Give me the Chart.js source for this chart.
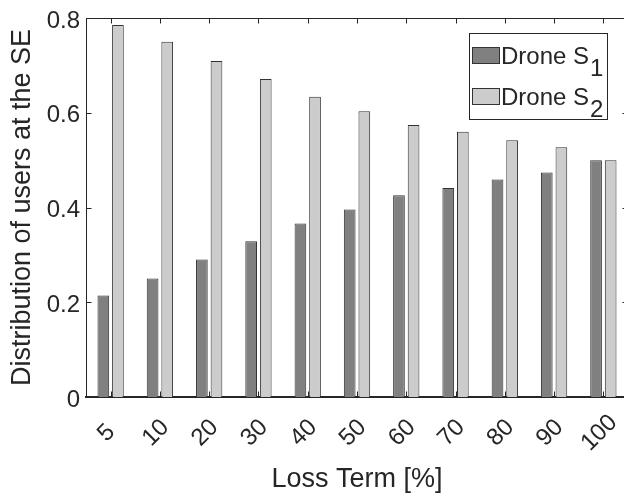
<!DOCTYPE html>
<html>
<head>
<meta charset="utf-8">
<script src="https://cdn.jsdelivr.net/npm/chart.js@4.4.1/dist/chart.umd.min.js"></script>
<style>
    html, body { margin: 0; padding: 0; background: #fff; overflow: hidden; }
    #wrap { position: relative; width: 650px; height: 501px; }
</style>
</head>
<body>
<div id="wrap"><canvas id="lossChart"></canvas></div>
<script>
// chart data
const lossTerms = ['5', '10', '20', '30', '40', '50', '60', '70', '80', '90', '100'];
const droneS1 = [0.214, 0.250, 0.290, 0.329, 0.366, 0.396, 0.426, 0.441, 0.459, 0.474, 0.500];
const droneS2 = [0.785, 0.750, 0.709, 0.671, 0.634, 0.603, 0.574, 0.560, 0.542, 0.527, 0.500];
const seriesNames = ['Drone S_1', 'Drone S_2'];
const yTicks = [0, 0.2, 0.4, 0.6, 0.8];

const AXIS_COLOR = '#262626';
const FONT = '"Liberation Sans", Arial, Helvetica, sans-serif';

/**
 * MATLAB style box, inward ticks, rotated x labels and legend
 */
const matlabAxes = {
    id: 'matlabAxes',
    afterDatasetsDraw: function(chart) {
        const ctx = chart.ctx;
        const area = chart.chartArea;
        const x = chart.scales.x;
        const y = chart.scales.y;
        const tl = 5.5;

        ctx.save();
        ctx.strokeStyle = AXIS_COLOR;
        ctx.lineWidth = 1;

        // top and right box lines
        ctx.beginPath();
        ctx.moveTo(area.left, area.top + 0.5);
        ctx.lineTo(area.right, area.top + 0.5);
        ctx.moveTo(area.right - 0.5, area.top);
        ctx.lineTo(area.right - 0.5, area.bottom);
        ctx.stroke();

        // inward ticks
        ctx.beginPath();
        lossTerms.forEach(function(lbl, i) {
            const px = Math.round(x.getPixelForTick(i)) + 0.5;
            ctx.moveTo(px, area.bottom);
            ctx.lineTo(px, area.bottom - tl);
            ctx.moveTo(px, area.top);
            ctx.lineTo(px, area.top + tl);
        });
        yTicks.forEach(function(v) {
            const py = Math.round(y.getPixelForValue(v)) + 0.5;
            ctx.moveTo(area.left, py);
            ctx.lineTo(area.left + tl, py);
            ctx.moveTo(area.right, py);
            ctx.lineTo(area.right - tl, py);
        });
        ctx.stroke();

        // rotated x tick labels
        ctx.fillStyle = AXIS_COLOR;
        ctx.font = '24px ' + FONT;
        ctx.textAlign = 'center';
        ctx.textBaseline = 'middle';
        lossTerms.forEach(function(lbl, i) {
            ctx.save();
            ctx.translate(x.getPixelForTick(i) - 4, area.bottom + 36);
            ctx.rotate(-Math.PI / 4);
            ctx.fillText(lbl, 0, 0);
            ctx.restore();
        });

        // legend
        const box = { left: 469.5, top: 33.5, right: 607.5, bottom: 119.5 };
        ctx.fillStyle = '#fff';
        ctx.fillRect(box.left, box.top, box.right - box.left, box.bottom - box.top);
        ctx.strokeRect(box.left, box.top, box.right - box.left, box.bottom - box.top);

        chart.data.datasets.forEach(function(ds, i) {
            const rowY = 47 + i * 41;
            ctx.fillStyle = ds.backgroundColor;
            ctx.fillRect(472.5, rowY + 0.5, 27, 16);
            ctx.strokeStyle = '#333';
            ctx.strokeRect(472.5, rowY + 0.5, 27, 16);

            const parts = ds.label.split('_');
            const baseY = rowY + 16.5;
            ctx.fillStyle = AXIS_COLOR;
            ctx.font = '24px ' + FONT;
            ctx.textAlign = 'left';
            ctx.textBaseline = 'alphabetic';
            ctx.fillText(parts[0], 501, baseY);
            const w = ctx.measureText(parts[0]).width;
            if (parts[1]) {
                ctx.fillText(parts[1], 501 + w + 1, baseY + 12.5);
            }
        });

        ctx.restore();
    }
};

new Chart(document.getElementById('lossChart'), {
    type: 'bar',
    data: {
        labels: lossTerms,
        datasets: [
            {
                label: seriesNames[0],
                data: droneS1,
                backgroundColor: '#808080',
                borderColor: '#333',
                borderWidth: 1,
                barPercentage: 0.8,
                categoryPercentage: 0.593
            },
            {
                label: seriesNames[1],
                data: droneS2,
                backgroundColor: '#cccccc',
                borderColor: '#333',
                borderWidth: 1,
                barPercentage: 0.8,
                categoryPercentage: 0.593
            }
        ]
    },
    options: {
        responsive: true,
        maintainAspectRatio: false,
        animation: false,
        layout: {
            padding: { top: 12, right: 22, left: 0, bottom: 0 }
        },
        plugins: {
            legend: { display: false },
            tooltip: { enabled: false }
        },
        scales: {
            x: {
                grid: { display: false, drawTicks: false },
                border: { display: true, color: AXIS_COLOR, width: 2 },
                ticks: { display: false },
                title: {
                    display: true,
                    text: 'Loss Term [%]',
                    color: AXIS_COLOR,
                    font: { family: FONT, size: 27 },
                    padding: { top: 0, bottom: 5 }
                },
                afterFit: function(scale) {
                    scale.height = 104;
                }
            },
            y: {
                min: 0,
                max: 0.8,
                grid: { display: false, drawTicks: false },
                border: { display: true, color: AXIS_COLOR, width: 1 },
                ticks: {
                    stepSize: 0.2,
                    padding: 6,
                    labelOffset: 3,
                    color: AXIS_COLOR,
                    font: { family: FONT, size: 24, lineHeight: 1 },
                    callback: function(value) {
                        return String(Number(value.toFixed(1)));
                    }
                },
                title: {
                    display: true,
                    text: 'Distribution of users at the SE',
                    color: AXIS_COLOR,
                    font: { family: FONT, size: 27 },
                    padding: { top: 6, bottom: 0 }
                },
                afterFit: function(scale) {
                    scale.width = 86;
                }
            }
        }
    },
    plugins: [matlabAxes]
});
</script>
</body>
</html>
